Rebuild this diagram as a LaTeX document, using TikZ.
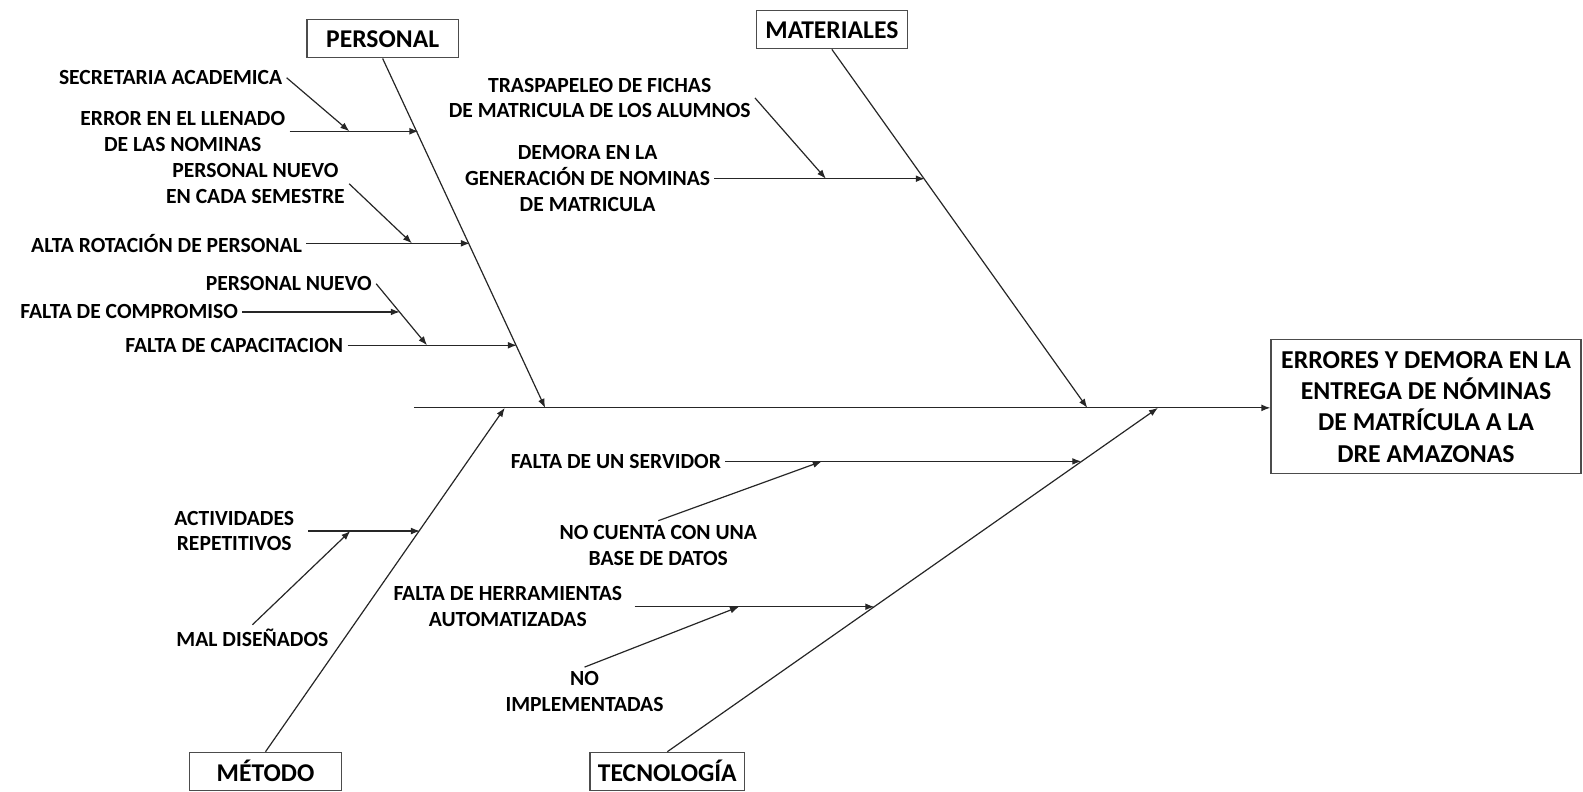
\documentclass[tikz,border=0pt]{standalone}
\usepackage{fontspec}
\setmainfont{Carlito}
\usetikzlibrary{arrows.meta}
\begin{document}
\begin{tikzpicture}[x=0.5048pt,y=-0.5048pt,
  lbl/.style={font=\fontsize{10.8}{12.9}\selectfont\bfseries, align=center, inner sep=2pt},
  cat/.style={draw=black!70, line width=0.6pt, font=\fontsize{12.8}{15}\selectfont\bfseries, minimum width=75.7pt, minimum height=19pt, inner sep=4pt},
  eff/.style={draw=black!70, line width=0.6pt, font=\fontsize{12.9}{15.6}\selectfont\bfseries, align=center, minimum width=155pt, minimum height=67pt},
  arr/.style={-{Latex[length=4.5pt,width=3.4pt]}, line width=0.6pt, draw=black!85}]
\useasboundingbox (0,0) rectangle (1568,784);

% category boxes
\node[cat] (personal) at (379,38.5) {PERSONAL};
\node[cat] (materiales) at (824,29.5) {MATERIALES};
\node[cat] (metodo) at (263,764) {MÉTODO};
\node[cat] (tecnologia) at (661,764) {TECNOLOGÍA};
\node[eff] (effect) at (1412.5,403) {ERRORES Y DEMORA EN LA\\ENTREGA DE NÓMINAS\\DE MATRÍCULA A LA\\DRE AMAZONAS};

% junctions on main spine
\coordinate (start) at (410,404);
\coordinate (mtj) at (500,404);
\coordinate (pj) at (540,404);
\coordinate (mj) at (1077,404);
\coordinate (tj) at (1147,404);

% points on bones
\coordinate (p1) at (414.5,130);
\coordinate (p2) at (465.5,241);
\coordinate (p3) at (512,342);
\coordinate (m1) at (916,177);
\coordinate (mt1) at (416,526);
\coordinate (t1) at (1071,457);
\coordinate (t2) at (866,601);

% secondary targets
\coordinate (s1) at (346,130);
\coordinate (s2) at (408,241);
\coordinate (s3) at (423,342);
\coordinate (s4) at (396,309);
\coordinate (m2) at (818,177);
\coordinate (mt2) at (347,526);
\coordinate (t3) at (814,457);
\coordinate (t4) at (732,601);

% labels
\node[lbl] (secre) at (169,77) {SECRETARIA ACADEMICA};
\node[lbl] (error) at (181,130) {ERROR EN EL LLENADO\\DE LAS NOMINAS};
\node[lbl] (pnuevo1) at (253,182) {PERSONAL NUEVO\\EN CADA SEMESTRE};
\node[lbl] (alta) at (165,241) {ALTA ROTACIÓN DE PERSONAL};
\node[lbl] (pnuevo2) at (286,281) {PERSONAL NUEVO};
\node[lbl] (compromiso) at (128,309) {FALTA DE COMPROMISO};
\node[lbl] (capacitacion) at (232,342) {FALTA DE CAPACITACION};
\node[lbl] (traspapeleo) at (594,97) {TRASPAPELEO DE FICHAS\\DE MATRICULA DE LOS ALUMNOS};
\node[lbl] (demora) at (582,177) {DEMORA EN LA\\GENERACIÓN DE NOMINAS\\DE MATRICULA};
\node[lbl] (actividades) at (232,526) {ACTIVIDADES\\REPETITIVOS};
\node[lbl] (mal) at (250,632) {MAL DISEÑADOS};
\node[lbl] (servidor) at (610,457) {FALTA DE UN SERVIDOR};
\node[lbl] (nocuenta) at (652,540) {NO CUENTA CON UNA\\BASE DE DATOS};
\node[lbl] (herr) at (503,601) {FALTA DE HERRAMIENTAS\\AUTOMATIZADAS};
\node[lbl] (noimpl) at (579,685) {NO\\IMPLEMENTADAS};

% main spine
\draw[arr] (start) -- (start -| effect.west);

% main bones
\draw[arr] (personal.south) -- (pj);
\draw[arr] (materiales.south) -- (mj);
\draw[arr] (metodo.north) -- (mtj);
\draw[arr] (tecnologia.north) -- (tj);

% personal causes
\draw[arr] (error.east) -- (p1);
\draw[arr] (secre.east) -- (s1);
\draw[arr] (alta.east) -- (p2);
\draw[arr] (pnuevo1.east) -- (s2);
\draw[arr] (capacitacion.east) -- (p3);
\draw[arr] (pnuevo2.east) -- (s3);
\draw[arr] (compromiso.east) -- (s4);

% materiales causes
\draw[arr] (demora.east) -- (m1);
\draw[arr] (traspapeleo.east) -- (m2);

% metodo causes
\draw[arr] ([xshift=5pt]actividades.east) -- (mt1);
\draw[arr] (mal.north) -- (mt2);

% tecnologia causes
\draw[arr] (servidor.east) -- (t1);
\draw[arr] (nocuenta.north) -- (t3);
\draw[arr] ([xshift=4pt]herr.east) -- (t2);
\draw[arr] (noimpl.north) -- (t4);
\end{tikzpicture}
\end{document}
